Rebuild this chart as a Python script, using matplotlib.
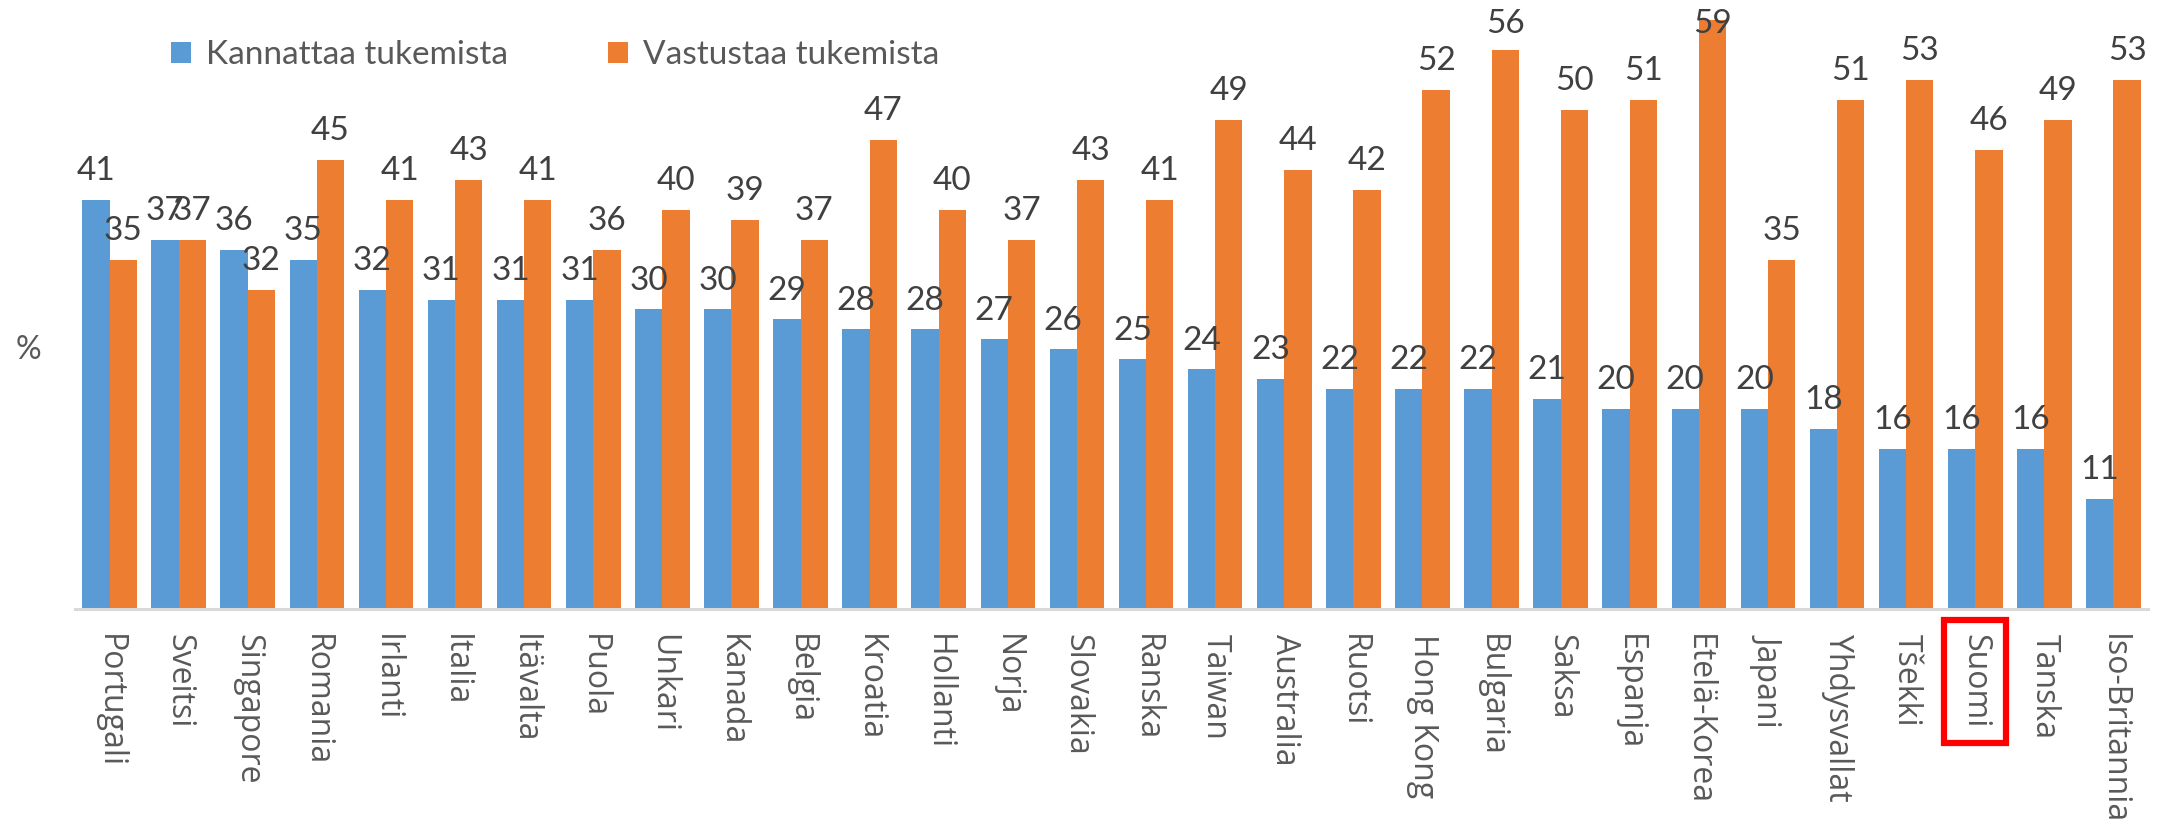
import matplotlib
matplotlib.use("Agg")
import matplotlib.pyplot as plt
import numpy as np

# data (%)
maat = ["Portugali", "Sveitsi", "Singapore", "Romania", "Irlanti", "Italia",
        "Itävalta", "Puola", "Unkari", "Kanada", "Belgia", "Kroatia",
        "Hollanti", "Norja", "Slovakia", "Ranska", "Taiwan", "Australia",
        "Ruotsi", "Hong Kong", "Bulgaria", "Saksa", "Espanja", "Etelä-Korea",
        "Japani", "Yhdysvallat", "Tšekki", "Suomi", "Tanska", "Iso-Britannia"]
kannattaa = [41, 37, 36, 35, 32, 31, 31, 31, 30, 30, 29, 28, 28, 27, 26,
             25, 24, 23, 22, 22, 22, 21, 20, 20, 20, 18, 16, 16, 16, 11]
vastustaa = [35, 37, 32, 45, 41, 43, 41, 36, 40, 39, 37, 47, 40, 37, 43,
             41, 49, 44, 42, 52, 56, 50, 51, 59, 35, 51, 53, 46, 49, 53]
sarjat = ["Kannattaa tukemista", "Vastustaa tukemista"]
korostus = "Suomi"

BLUE = "#5B9BD5"
ORANGE = "#ED7D31"
LABEL_C = "#404040"
TICK_C = "#595959"

W, H = 2165, 827
fig = plt.figure(figsize=(W / 100, H / 100), dpi=100)
ax = fig.add_axes([75 / W, 1 - 609 / H, (2148 - 75) / W, 609 / H])

x = np.arange(len(maat))
w = 0.395
b1 = ax.bar(x - w / 2, kannattaa, w, color=BLUE, label=sarjat[0])
b2 = ax.bar(x + w / 2, vastustaa, w, color=ORANGE, label=sarjat[1])

ytop = 61.0
ax.set_ylim(0, ytop)
ax.set_xlim(-0.5, len(maat) - 0.5)

# value labels, kept inside the top edge like the original
for bars in (b1, b2):
    for r in bars:
        v = r.get_height()
        ax.annotate(f"{v:.0f}", (r.get_x() + r.get_width() / 2, min(v, ytop - 5.3)),
                    xytext=(0, 10), textcoords="offset points",
                    ha="center", va="bottom", fontsize=24, family="Lato",
                    color=LABEL_C)

for s in ["top", "right", "left"]:
    ax.spines[s].set_visible(False)
ax.spines["bottom"].set_color("#D9D9D9")
ax.spines["bottom"].set_linewidth(2.2)
ax.set_yticks([])
ax.set_xticks(x)
ax.set_xticklabels(maat, rotation=-90, fontsize=23, family="Open Sans",
                   color=TICK_C, va="top", ha="center")
ax.tick_params(axis="x", length=0, pad=18)

for t in ax.get_xticklabels():
    if t.get_text() == korostus:
        t.set_bbox(dict(boxstyle="square,pad=0.45", facecolor="none",
                        edgecolor="#FF0000", linewidth=4.5))

fig.text(28 / W, 1 - 350 / H, "%", fontsize=23, family="Lato",
         color=TICK_C, ha="center", va="center")

ax.legend(loc="center", bbox_to_anchor=(555 / W, 1 - 55 / H),
          bbox_transform=fig.transFigure, ncol=2, frameon=False,
          prop={"family": "Lato", "size": 24},
          handlelength=0.6, handleheight=0.6, handletextpad=0.45,
          columnspacing=3.0, labelcolor=TICK_C)

fig.savefig("out.png", dpi=100)
